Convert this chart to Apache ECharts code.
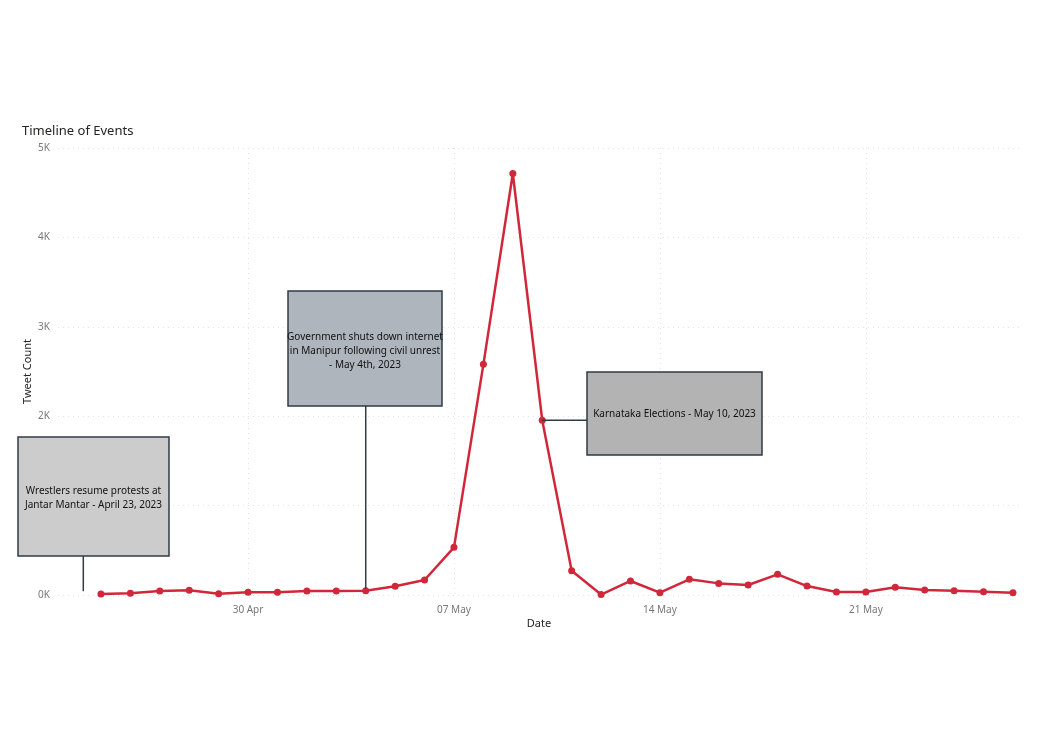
<!DOCTYPE html>
<html>
<head>
<meta charset="utf-8">
<title>Timeline of Events</title>
<script src="https://cdn.jsdelivr.net/npm/echarts@6/dist/echarts.min.js"></script>
<style>
  html, body { margin: 0; padding: 0; background: #fff; }
  #chart { width: 1047px; height: 741px; }
</style>
</head>
<body>
<div id="chart"></div>
<script>
// daily tweet counts
const dates = [
  '2023-04-25', '2023-04-26', '2023-04-27', '2023-04-28', '2023-04-29', '2023-04-30',
  '2023-05-01', '2023-05-02', '2023-05-03', '2023-05-04', '2023-05-05', '2023-05-06',
  '2023-05-07', '2023-05-08', '2023-05-09', '2023-05-10', '2023-05-11', '2023-05-12',
  '2023-05-13', '2023-05-14', '2023-05-15', '2023-05-16', '2023-05-17', '2023-05-18',
  '2023-05-19', '2023-05-20', '2023-05-21', '2023-05-22', '2023-05-23', '2023-05-24',
  '2023-05-25', '2023-05-26'
]
const tweetCounts = [
  10, 20, 45, 52, 15, 30,
  30, 45, 45, 48, 97, 168,
  533, 2580, 4715, 1955, 272, 5,
  157, 26, 175, 130, 112, 231,
  100, 33, 33, 86, 56, 48,
  37, 26
]
const yTicks = [0, 1000, 2000, 3000, 4000, 5000]
const xTickDates = ['2023-04-30', '2023-05-07', '2023-05-14', '2023-05-21']
const xTickLabels = ['30 Apr', '07 May', '14 May', '21 May']

// annotated events: anchor date + value on the chart
const events = [
  { text: 'Wrestlers resume protests at\nJantar Mantar - April 23, 2023', date: '2023-04-24', shift: 0.4, value: 20 },
  { text: 'Government shuts down internet\nin Manipur following civil unrest\n- May 4th, 2023', date: '2023-05-04', shift: 0, value: 48 },
  { text: 'Karnataka Elections - May 10, 2023', date: '2023-05-10', shift: 0, value: 1955 }
]

const DAY = 86400000
const base = Date.UTC(2023, 3, 30)
const dayOf = s => {
  const p = s.split('-').map(Number)
  return (Date.UTC(p[0], p[1] - 1, p[2]) - base) / DAY
}
const tickDays = xTickDates.map(dayOf)

const chart = echarts.init(document.getElementById('chart'))
const font = '"Noto Sans", "Open Sans", sans-serif'

chart.setOption({
  animation: false,
  title: {
    text: 'Timeline of Events',
    left: 17,
    top: 120,
    textStyle: { fontFamily: font, fontSize: 13, fontWeight: 'normal', color: '#252423' }
  },
  grid: { left: 58, right: 27, top: 148, bottom: 146 },
  xAxis: {
    type: 'value',
    min: dayOf(dates[0]) - 1.46,
    max: dayOf(dates[dates.length - 1]) + 0.24,
    name: 'Date',
    nameLocation: 'middle',
    nameGap: 23,
    nameMoveOverlap: false,
    nameTextStyle: { fontFamily: font, fontSize: 11, color: '#252423' },
    axisLine: { show: false },
    axisTick: { show: false, customValues: tickDays },
    axisLabel: {
      color: '#777',
      fontFamily: font,
      fontSize: 10,
      margin: 10,
      customValues: tickDays,
      formatter: v => {
        const i = tickDays.indexOf(Math.round(v))
        return i >= 0 ? xTickLabels[i] : ''
      }
    },
    splitLine: { show: true, lineStyle: { color: '#e3e3e3', type: [1, 4], width: 1 } }
  },
  yAxis: {
    type: 'value',
    min: yTicks[0],
    max: yTicks[yTicks.length - 1],
    interval: 1000,
    name: 'Tweet Count',
    nameLocation: 'middle',
    nameGap: 25,
    nameMoveOverlap: false,
    nameTextStyle: { fontFamily: font, fontSize: 11, color: '#252423' },
    axisLine: { show: false },
    axisTick: { show: false },
    axisLabel: {
      color: '#777',
      fontFamily: font,
      fontSize: 10,
      margin: 8,
      formatter: v => (v / 1000) + 'K'
    },
    splitLine: { lineStyle: { color: '#e3e3e3', type: [1, 4], width: 1 } }
  },
  series: [{
    type: 'line',
    data: dates.map((d, i) => [dayOf(d), tweetCounts[i]]),
    symbol: 'circle',
    symbolSize: 7,
    lineStyle: { color: '#D0283A', width: 2.5 },
    itemStyle: { color: '#D0283A' }
  }]
})

// annotation boxes; connectors are anchored to the data through convertToPixel
const boxes = [
  { x: 18, y: 437, w: 151, h: 119, fill: '#CCCCCC', textY: 498 },
  { x: 288, y: 291, w: 154, h: 115, fill: '#AFB5BC', textY: 351 },
  { x: 587, y: 372, w: 175, h: 83, fill: '#B3B3B3', textY: 414 }
]
const stroke = '#2F3B47'
const graphic = []
events.forEach((ev, i) => {
  const b = boxes[i]
  const p = chart.convertToPixel({ gridIndex: 0 }, [dayOf(ev.date) + ev.shift, ev.value])
  if (i < 2) {
    graphic.push({ type: 'line', shape: { x1: p[0], y1: b.y + b.h, x2: p[0], y2: p[1] - 2 }, style: { stroke, lineWidth: 1.5 }, z: 10 })
  } else {
    graphic.push({ type: 'line', shape: { x1: p[0], y1: p[1], x2: b.x, y2: p[1] }, style: { stroke, lineWidth: 1.5 }, z: 10 })
  }
  graphic.push({
    type: 'rect',
    shape: { x: b.x, y: b.y, width: b.w, height: b.h },
    style: { fill: b.fill, stroke, lineWidth: 1.5 },
    z: 20
  })
  graphic.push({
    type: 'text',
    x: b.x + b.w / 2,
    y: b.textY,
    style: {
      text: ev.text,
      align: 'center',
      verticalAlign: 'middle',
      fontFamily: font,
      fontSize: 10,
      lineHeight: 14,
      fill: '#111'
    },
    z: 30
  })
})
chart.setOption({ graphic })
</script>
</body>
</html>
